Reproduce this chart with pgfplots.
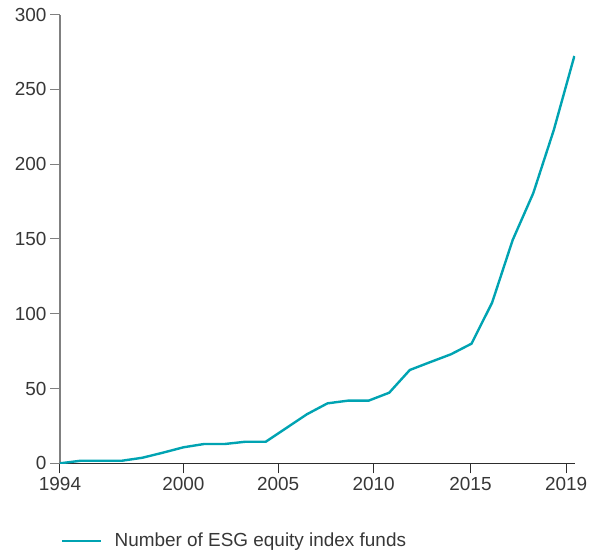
\documentclass[border=0pt]{standalone}
\usepackage{fontspec}
\setmainfont{Liberation Sans}
\usepackage{pgfplots}
\pgfplotsset{compat=1.18}
\definecolor{lineteal}{RGB}{0,163,178}
\definecolor{txt}{RGB}{55,55,55}
\definecolor{yax}{RGB}{128,128,128}
\definecolor{xax}{RGB}{45,45,45}
\begin{document}
\begin{tikzpicture}
\begin{axis}[
  scale only axis,
  width=515bp, height=448.6bp,
  at={(0,0)}, anchor=south west,
  xmin=1994, xmax=2019.03, ymin=0, ymax=300,
  axis x line=bottom, axis y line=left,
  x axis line style={-, draw=xax, line width=1.2bp},
  y axis line style={-, draw=yax, line width=1.2bp},
  tick align=outside,
  major tick length=10bp,
  xtick={1994,2000,2004.6,2009.24,2013.95,2018.6},
  xticklabels={1994,2000,2005,2010,2015,2019},
  ytick={0,50,100,150,200,250,300},
  x tick style={draw=xax, line width=1bp},
  y tick style={draw=yax, line width=1bp},
  /pgf/number format/assume math mode=true,
  ticklabel style={font=\fontsize{19}{21}\selectfont, text=txt},
  legend style={draw=none, fill=none, at={(axis description cs:0,0)}, anchor=west,
    xshift=1bp, yshift=-77.5bp, inner sep=0pt, column sep=10bp,
    font=\fontsize{19}{21}\selectfont, text=txt},
  legend image code/.code={\draw[#1] (0bp,0bp) -- (39bp,0bp);},
]
\addplot[color=lineteal, line width=2.4bp, line join=round] coordinates {
(1994,0) (1995,1.7) (1996,1.7) (1997,1.7) (1998,3.7) (1999,7.1) (2000,10.7)
(2001,12.9) (2002,12.9) (2003,14.4) (2004,14.4) (2005,23.6) (2006,32.8)
(2007,40.1) (2008,41.9) (2009,41.9) (2010,47.2) (2011,62.4) (2012,67.7)
(2013,72.9) (2014,80) (2015,107.4) (2016,149.3) (2017,180.6) (2018,222.9)
(2019,272.4)
};
\addlegendentry{Number of ESG equity index funds}
\end{axis}
\pgfresetboundingbox
\path[use as bounding box] (-60bp,-87.7bp) rectangle (532bp,463.3bp);
\end{tikzpicture}
\end{document}
